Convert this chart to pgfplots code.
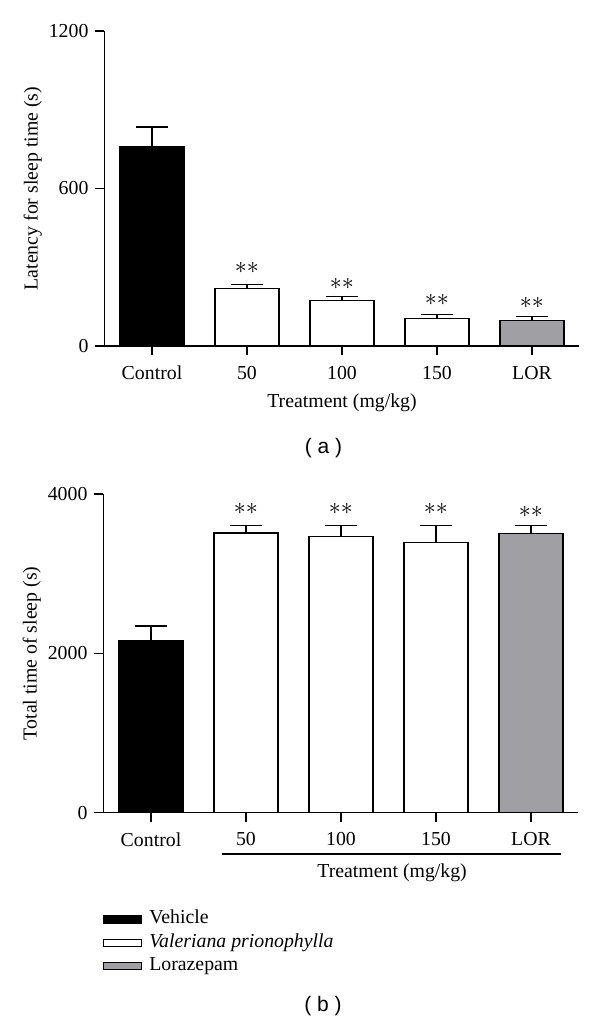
\documentclass[border=0pt]{standalone}
\usepackage{pgfplots}
\pgfplotsset{compat=1.18}
\usepackage{fontspec}
\setmainfont{Liberation Serif}
\setsansfont{Liberation Sans}
\definecolor{lorgray}{RGB}{160,160,164}
\newcommand{\myfont}{\fontsize{9.9}{11.8}\selectfont}
\newcommand{\stars}{{\fontsize{12}{14}\selectfont$\ast\ast$}}
\pgfplotsset{
  myaxis/.style={
    scale only axis, width=237.5pt,
    xmin=-0.5, xmax=4.5, xtick={0,1,2,3,4},
    xticklabels={Control,50,100,150,LOR},
    axis x line*=bottom, axis y line*=left,
    tick align=outside, major tick length=4.5pt,
    axis line style={line width=0.65pt, black},
    tick style={line width=0.65pt, black},
    ymin=0, clip=false, scaled y ticks=false,
    /pgf/number format/assume math mode=true,
    /pgf/number format/1000 sep={},
    tick label style={font=\myfont},
    xticklabel style={yshift=-2pt},
    label style={font=\myfont},
    legend image code/.code={\draw[##1, line width=0.65pt] (0pt,-1.75pt) rectangle (18.8pt,1.75pt); \path (22pt,0pt);},
  },
  mybar/.style={ybar, bar shift=0pt, bar width=32pt, line width=0.65pt, draw=black,
    error bars/y dir=plus, error bars/y explicit,
    error bars/error bar style={line width=0.65pt, black},
    error bars/error mark options={rotate=90, mark size=8pt, line width=0.65pt, black}},
}
\begin{document}
\begin{tikzpicture}[font=\myfont]
\useasboundingbox (0,0) rectangle (300pt,-512.5pt);
% ---------------- panel (a)
\begin{axis}[myaxis,
  at={(52.25pt,-173pt)}, anchor=south west, height=157.5pt,
  ymax=1200, ytick={0,600,1200},
  ylabel={Latency for sleep time (s)},
  every axis y label/.style={at={(axis description cs:-0.151,0.5)}, rotate=90, anchor=center},
  xlabel={Treatment (mg/kg)},
  every axis x label/.style={at={(axis description cs:0.5,-0.181)}, anchor=center},
]
\addplot[mybar, fill=black] coordinates {(0,760) +- (0,74)};
\addplot[mybar, fill=white] coordinates {(1,218.5) +- (0,15) (2,174.3) +- (0,14) (3,103.6) +- (0,16.4)};
\addplot[mybar, fill=lorgray] coordinates {(4,98.5) +- (0,12.7)};
\node at (axis cs:1,296.8) {\stars};
\node at (axis cs:2,237.5) {\stars};
\node at (axis cs:3,174.3) {\stars};
\node at (axis cs:4,164.2) {\stars};
\end{axis}
\node[font=\sffamily\fontsize{10.5}{12}\selectfont] at (161.75pt,-224pt) {( a )};
% ---------------- panel (b)
\begin{axis}[myaxis,
  at={(51.75pt,-406.35pt)}, anchor=south west, height=159.35pt,
  ymax=4000, ytick={0,2000,4000},
  ylabel={Total time of sleep (s)},
  every axis y label/.style={at={(axis description cs:-0.151,0.5)}, rotate=90, anchor=center},
  xlabel={Treatment (mg/kg)},
  every axis x label/.style={at={(axis description cs:0.6076,-0.188)}, anchor=center},
  legend cell align=left,
  legend style={at={(axis description cs:-0.0145,-0.288)}, anchor=north west,
    draw=none, fill=none, font=\myfont, row sep=1.2pt,
    nodes={inner sep=0.5pt, text height=7pt, text depth=2.5pt}},
]
\addplot[mybar, fill=black] coordinates {(0,2159) +- (0,184)};
\addlegendentry{Vehicle}
\addplot[mybar, fill=white] coordinates {(1,3510) +- (0,93) (2,3464) +- (0,139) (3,3389) +- (0,214)};
\addlegendentry{\textit{Valeriana prionophylla}}
\addplot[mybar, fill=lorgray] coordinates {(4,3506) +- (0,97)};
\addlegendentry{Lorazepam}
\node at (axis cs:1,3808) {\stars};
\node at (axis cs:2,3808) {\stars};
\node at (axis cs:3,3808) {\stars};
\node at (axis cs:4,3778) {\stars};
\draw[line width=0.65pt] ([yshift=-20.65pt]axis cs:0.75,0) -- ([yshift=-20.65pt]axis cs:4.32,0);
\end{axis}
\node[font=\sffamily\fontsize{10.5}{12}\selectfont] at (161.5pt,-503pt) {( b )};
\end{tikzpicture}
\end{document}
